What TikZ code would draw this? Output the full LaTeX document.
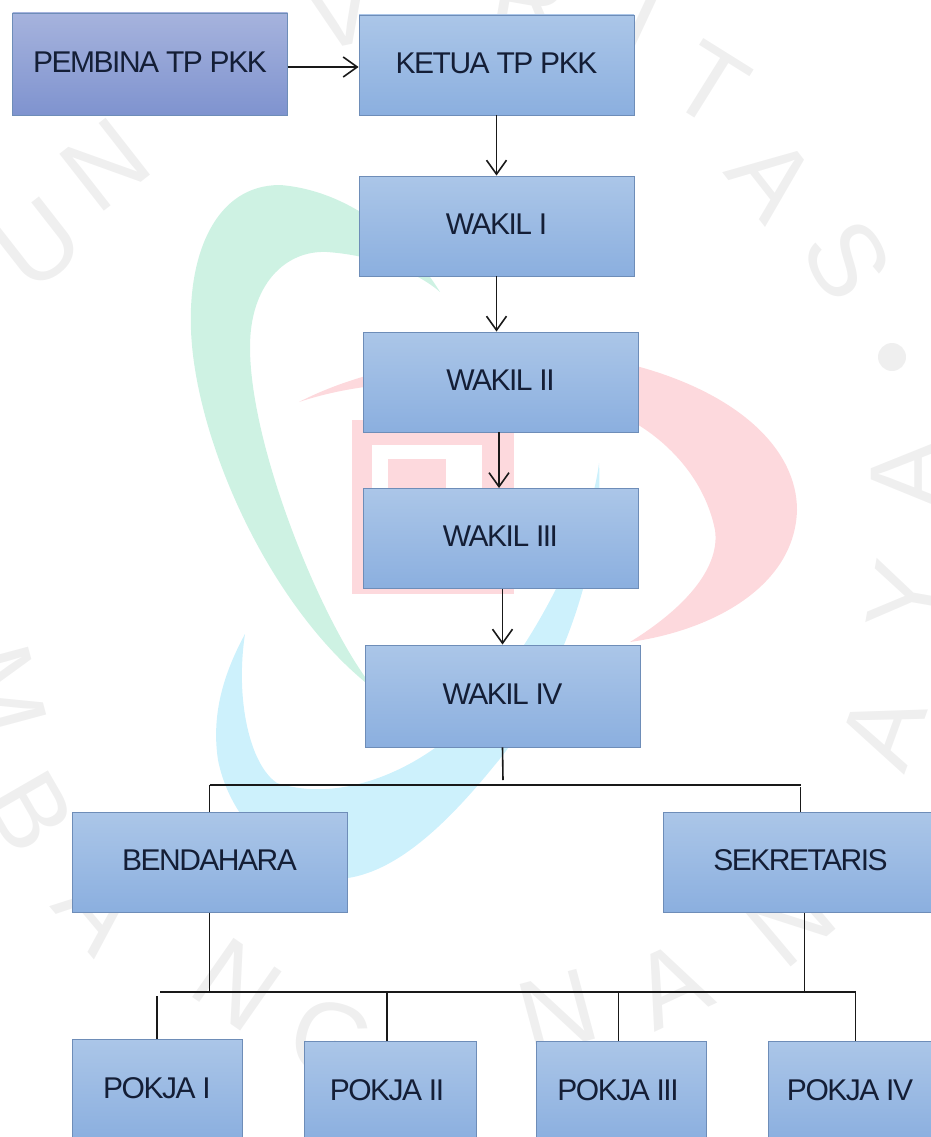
\documentclass[tikz,border=0pt]{standalone}
\usepackage{fontspec}
\usetikzlibrary{arrows.meta}
\setmainfont{Liberation Sans}
\definecolor{wmGreen}{HTML}{CEF2E3}
\definecolor{wmRed}{HTML}{FDD9DD}
\definecolor{wmBlue}{HTML}{CDF1FC}
\definecolor{wmGrey}{HTML}{EFEFEF}
\definecolor{cellTop}{HTML}{ABC6E8}
\definecolor{cellLow}{HTML}{8BAFDF}
\definecolor{chiefTop}{HTML}{A6B3DD}
\definecolor{chiefLow}{HTML}{7F93CF}
\definecolor{boxLine}{HTML}{6E8DB8}
\definecolor{boxInk}{HTML}{141E36}
\tikzset{
    box/.style = {draw = boxLine, line width = 0.9pt, top color = cellTop, bottom color = cellLow,
        minimum width = 275pt, minimum height = 100pt, inner sep = 0pt, text = boxInk, text depth = 4pt,
        font = \fontsize{30}{30}\selectfont\addfontfeature{LetterSpace=-5}},
    chief/.style = {box, top color = chiefTop, bottom color = chiefLow, minimum height = 102pt},
    pokja/.style = {box, minimum width = 170pt, text depth = 2pt},
    pokjaLeft/.style = {pokja, execute at begin node = {\kern-6pt}},
    link/.style = {draw = black!90, line width = 1.6pt},
    arrowlink/.style = {link, -{Straight Barb[length = 14pt, width = 20pt]}},
    bus/.style = {draw = black!90, line width = 2.2pt},
    wmark/.style = {text = wmGrey, font = \fontsize{105}{105}\selectfont}
}
\begin{document}
\begin{tikzpicture}[x = 1pt, y = -1pt]
    \useasboundingbox (0,0) rectangle (931,1137);
    \clip (0,0) rectangle (931,1137);
    % logo
    \fill[wmGreen] (440,292) .. controls (405,235) and (345,190) .. (280,185) .. controls (215,185) and (188,255) .. (191,330)
        .. controls (195,440) and (270,610) .. (375,690) .. controls (325,630) and (250,450) .. (250,347)
        .. controls (250,285) and (285,250) .. (327,252) .. controls (370,255) and (415,270) .. (440,292) -- cycle;
    \fill[wmRed] (299,402) .. controls (400,350) and (550,345) .. (640,367) .. controls (740,395) and (797,450) .. (797,510)
        .. controls (795,585) and (715,630) .. (630,642) .. controls (690,605) and (720,565) .. (715,530)
        .. controls (705,480) and (670,445) .. (640,426) .. controls (560,385) and (410,365) .. (299,402) -- cycle;
    \fill[wmRed] (352,420) rectangle (514,594);
    \fill[white] (372,445) rectangle (482,575);
    \fill[wmRed] (388,459) rectangle (446,560);
    \fill[wmBlue] (245,634) .. controls (220,680) and (212,720) .. (218,760) .. controls (232,830) and (295,878) .. (348,878)
        .. controls (400,870) and (450,820) .. (494,766) .. controls (550,700) and (605,570) .. (599,463)
        .. controls (590,540) and (520,680) .. (435,748) .. controls (390,780) and (330,800) .. (277,783)
        .. controls (250,765) and (235,700) .. (245,634) -- cycle;
    % letters
    \foreach \wx/\wy/\wa/\wt in {38/244/38/U, 105/165/38/N, 340/10/12/V, 530/0/-10/R, 640/25/-25/I, 710/85/-32/T,
        773/178/-52/A, 847/260/-60/S, 907/474/90/A, 907/597/80/Y, 883/730/70/A, 3/690/-75/M,
        30/812/-60/B, 100/910/-50/A, 237/985/-35/N, 332/1040/-15/G, 558/1012/15/N, 671/985/25/A, 790/920/40/N} {
        \node[wmark, rotate = \wa] (wm\wx) at (\wx,\wy) {\wt};
    }
    \fill[wmGrey] (892,357) circle (14pt);
    % boxes
    \node[chief] (pembina) at (150,64) {PEMBINA TP PKK};
    \node[box] (ketua) at (496.5,65) {KETUA TP PKK};
    \node[box] (wakilA) at (496.5,226) {WAKIL I};
    \node[box] (wakilB) at (500.5,382) {WAKIL II};
    \node[box] (wakilC) at (500.5,538.5) {WAKIL III};
    \node[box, minimum height = 102pt] (wakilD) at (502.5,696) {WAKIL IV};
    \node[box] (bendahara) at (209.5,862.5) {BENDAHARA};
    \node[box] (sekretaris) at (800.5,862.5) {SEKRETARIS};
    \node[pokja] (pokjaA) at (157,1089) {POKJA I};
    \node[pokjaLeft, minimum width = 172pt] (pokjaB) at (390,1091) {POKJA II};
    \node[pokjaLeft] (pokjaC) at (621,1091) {POKJA III};
    \node[pokjaLeft] (pokjaD) at (853,1091) {POKJA IV};
    % junctions
    \coordinate (topStem) at (503,780);
    \coordinate (topLeft) at (209.5,785);
    \coordinate (topRight) at (800.5,785);
    \coordinate (lowLeft) at (160,992);
    \coordinate (lowRight) at (855.5,992);
    % arrows
    \draw[arrowlink] ([yshift = -3pt]pembina.east) -- ([yshift = -3pt]pembina.east -| ketua.west);
    \draw[arrowlink] (ketua.south) -- (wakilA.north);
    \draw[arrowlink] (wakilA.south) -- (wakilA.south |- wakilB.north);
    \draw[arrowlink] ([xshift = -1.5pt]wakilB.south) -- ([xshift = -1.5pt]wakilB.south |- wakilC.north);
    \draw[arrowlink] ([xshift = 2pt]wakilC.south) -- ([xshift = 2pt]wakilC.south |- wakilD.north);
    % lines
    \draw[link] (wakilD.south) -- (topStem);
    \draw[bus] (topLeft) -- (topRight);
    \draw[link] (topLeft) -- (topLeft |- bendahara.north);
    \draw[link] ([yshift = -2pt]topRight) -- (topRight |- sekretaris.north);
    \draw[link] (bendahara.south) -- (bendahara.south |- lowLeft);
    \draw[link] ([xshift = 4pt]sekretaris.south) -- ([xshift = 4pt]sekretaris.south |- lowRight);
    \draw[bus] (lowLeft) -- (lowRight);
    \draw[link] ([yshift = -4pt]pokjaA.north |- lowLeft) -- (pokjaA.north);
    \draw[link] ([xshift = -3pt]pokjaB.north |- lowLeft) -- ([xshift = -3pt]pokjaB.north);
    \draw[link] ([xshift = -2.5pt]pokjaC.north |- lowLeft) -- ([xshift = -2.5pt]pokjaC.north);
    \draw[link] (lowRight) -- (lowRight |- pokjaD.north);
\end{tikzpicture}
\end{document}
